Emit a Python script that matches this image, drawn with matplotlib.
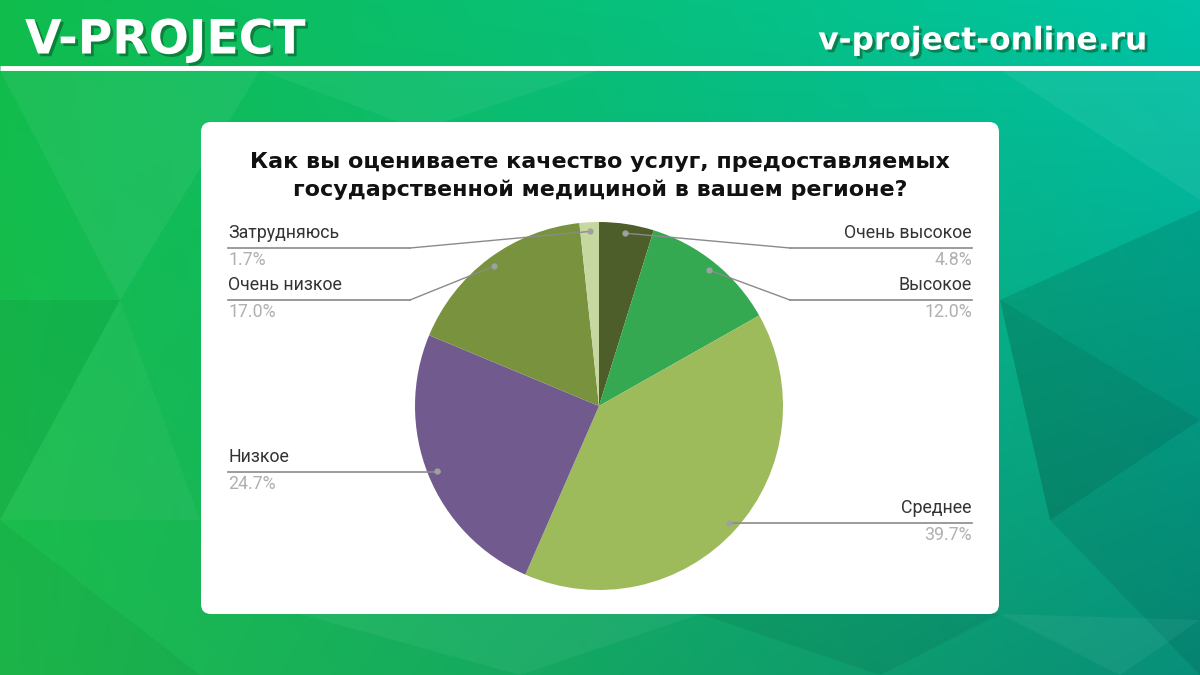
import numpy as np
import matplotlib
matplotlib.use("Agg")
import matplotlib.pyplot as plt
from matplotlib.patches import FancyBboxPatch, Polygon
import matplotlib.patheffects as pe

# data
labels = ["Очень высокое", "Высокое", "Среднее", "Низкое", "Очень низкое", "Затрудняюсь"]
values = [4.8, 12.0, 39.7, 24.7, 17.0, 1.7]
colors = ["#4e5e2a", "#35a852", "#9dbb5a", "#715a8e", "#78923e", "#c6d8a0"]
title = "Как вы оцениваете качество услуг, предоставляемых\nгосударственной медициной в вашем регионе?"

W, H = 1200, 675
fig = plt.figure(figsize=(12, 6.75), dpi=100)
ax = fig.add_axes([0, 0, 1, 1])
ax.set_xlim(0, W)
ax.set_ylim(H, 0)
ax.axis("off")

# background gradient (green -> teal)
yy, xx = np.mgrid[0:1:H * 1j, 0:1:W * 1j]
tl = np.array([0.06, 0.74, 0.30])
tr = np.array([0.00, 0.77, 0.66])
bl = np.array([0.12, 0.74, 0.30])
br = np.array([0.03, 0.56, 0.48])
bg = ((1 - xx)[..., None] * (1 - yy)[..., None] * tl + xx[..., None] * (1 - yy)[..., None] * tr
      + (1 - xx)[..., None] * yy[..., None] * bl + xx[..., None] * yy[..., None] * br)
ax.imshow(np.clip(bg, 0, 1), extent=(0, W, H, 0), zorder=0)

# low-poly facets
facets = [
    ([(0, 70), (260, 70), (120, 300)], "white", 0.06),
    ([(0, 300), (120, 300), (0, 520)], "black", 0.05),
    ([(120, 300), (200, 520), (0, 520)], "white", 0.04),
    ([(0, 520), (200, 675), (0, 675)], "black", 0.04),
    ([(260, 70), (600, 70), (420, 130)], "white", 0.05),
    ([(1000, 70), (1200, 70), (1200, 200)], "white", 0.06),
    ([(1000, 300), (1200, 210), (1200, 420)], "black", 0.10),
    ([(1000, 300), (1200, 420), (1050, 520)], "black", 0.16),
    ([(1050, 520), (1200, 420), (1200, 675)], "black", 0.08),
    ([(1000, 614), (1200, 620), (1120, 675)], "white", 0.05),
    ([(300, 614), (700, 614), (520, 675)], "white", 0.05),
    ([(700, 614), (1000, 614), (880, 675)], "black", 0.06),
]
for pts, c, a in facets:
    ax.add_patch(Polygon(pts, closed=True, facecolor=c, alpha=a, edgecolor="none", zorder=1))

# header
shadow = [pe.withSimplePatchShadow(offset=(2, -2), shadow_rgbFace="#0a5a2a", alpha=0.6)]
ax.text(25, 41, "V-PROJECT", fontsize=34, fontweight="bold", color="white",
        family="DejaVu Sans", va="center", ha="left", path_effects=shadow, zorder=3)
ax.text(1148, 41, "v-project-online.ru", fontsize=22.5, fontweight="bold", color="white",
        family="DejaVu Sans", va="center", ha="right", path_effects=shadow, zorder=3)
ax.plot([0, W], [68, 68], color="white", lw=3.5, zorder=3, solid_capstyle="butt")

# card
ax.add_patch(FancyBboxPatch((201, 122), 798, 492, boxstyle="round,pad=0,rounding_size=10",
                            facecolor="white", edgecolor="none", zorder=2))
ax.text(600, 176, title, fontsize=16, fontweight="bold", color="#111111",
        family="DejaVu Sans", ha="center", va="center", linespacing=1.45, zorder=3)

# pie
cx, cy, R = 599, 406, 184
pax = fig.add_axes([(cx - R) / W, (H - cy - R) / H, 2 * R / W, 2 * R / H])
wedges, _ = pax.pie(values, colors=colors, startangle=90, counterclock=False, radius=1,
                    wedgeprops=dict(edgecolor="none"))
pax.set_xlim(-1, 1)
pax.set_ylim(-1, 1)
pax.axis("off")

# label layout: side, underline y, elbow x
layout = {
    "Очень высокое": ("right", 248, 790),
    "Высокое": ("right", 300, 790),
    "Среднее": ("right", 523, 735),
    "Низкое": ("left", 472, 440),
    "Очень низкое": ("left", 300, 410),
    "Затрудняюсь": ("left", 248, 410),
}
line_c = "#8a8a8a"
for w, lab, v in zip(wedges, labels, values):
    th = np.deg2rad((w.theta1 + w.theta2) / 2)
    dx = cx + 0.95 * R * np.cos(th)
    dy = cy - 0.95 * R * np.sin(th)
    side, uy, ex = layout[lab]
    if side == "left":
        x0, x1, ha, tx = 228, ex, "left", 228
    else:
        x0, x1, ha, tx = ex, 972, "right", 972
    # draw in pie axes (on top of wedges) using main-axes pixel coordinates
    pax.plot([x0, x1], [uy, uy], color=line_c, lw=1.2, zorder=4,
             transform=ax.transData, clip_on=False)
    pax.plot([ex, dx], [uy, dy], color=line_c, lw=1.0, zorder=4,
             transform=ax.transData, clip_on=False)
    pax.plot([dx], [dy], "o", color="#a0a0a0", ms=3.5, zorder=5,
             transform=ax.transData, clip_on=False)
    ax.text(tx, uy - 15, lab, fontsize=12.8, color="#333333", family="Roboto",
            ha=ha, va="center", zorder=4)
    ax.text(tx, uy + 12, f"{v:.1f}%", fontsize=12.8, color="#b0b0b0", family="Roboto",
            ha=ha, va="center", zorder=4)

fig.savefig("out.png", dpi=100)
